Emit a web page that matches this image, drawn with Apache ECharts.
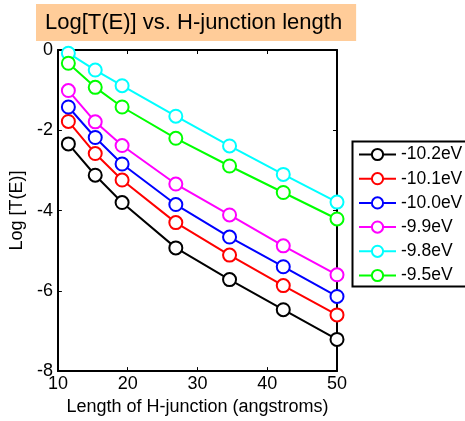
<!DOCTYPE html>
<html>
<head>
<meta charset="utf-8">
<script src="https://cdn.jsdelivr.net/npm/echarts@6/dist/echarts.min.js"></script>
<style>
  html, body { margin: 0; padding: 0; background: #fff; }
  #chart { width: 465px; height: 421px; }
</style>
</head>
<body>
<div id="chart"></div>
<script>
// H-junction lengths (angstroms)
const lengths = [11.5, 15.35, 19.2, 26.9, 34.6, 42.3, 50.0];

// Energy labels and their log transmission values
const energyLabels = ['-10.2eV', '-10.1eV', '-10.0eV', '-9.9eV', '-9.8eV', '-9.5eV'];
const logT_m102 = [-2.34, -3.12, -3.80, -4.93, -5.72, -6.47, -7.21];
const logT_m101 = [-1.78, -2.58, -3.24, -4.30, -5.11, -5.87, -6.60];
const logT_m100 = [-1.42, -2.18, -2.84, -3.85, -4.66, -5.40, -6.14];
const logT_m99  = [-1.01, -1.79, -2.38, -3.34, -4.11, -4.88, -5.60];
const logT_m98  = [-0.08, -0.50, -0.89, -1.65, -2.39, -3.10, -3.79];
const logT_m95  = [-0.33, -0.93, -1.42, -2.20, -2.89, -3.55, -4.21];
const seriesValues = [logT_m102, logT_m101, logT_m100, logT_m99, logT_m98, logT_m95];
const seriesColors = ['#000000', '#ff0000', '#0000ff', '#ff00ff', '#00ffff', '#00ff00'];

const xTicks = [10, 20, 30, 40, 50];
const yTicks = [-8, -6, -4, -2, 0];

const FONT = 'Liberation Sans, Arial, sans-serif';

const chart = echarts.init(document.getElementById('chart'), null, { renderer: 'canvas' });

const series = seriesValues.map((vals, i) => ({
  name: energyLabels[i],
  type: 'line',
  data: vals.map((v, j) => [lengths[j], v]),
  symbol: 'emptyCircle',
  symbolSize: 13,
  color: seriesColors[i],
  lineStyle: { width: 2, color: seriesColors[i] },
  itemStyle: { color: seriesColors[i], borderWidth: 2 },
  emphasis: { disabled: true },
  animation: false
}));

const axisCommon = {
  type: 'value',
  axisLine: { show: true, onZero: false, lineStyle: { color: '#000', width: 2 } },
  axisTick: { show: true, inside: true, length: 4, lineStyle: { color: '#000', width: 1 } },
  splitLine: { show: false }
};

chart.setOption({
  animation: false,
  backgroundColor: '#fff',
  title: {
    text: 'Log[T(E)] vs. H-junction length',
    left: 36,
    top: 4,
    backgroundColor: '#ffcc99',
    padding: [8, 14, 7, 9],
    textStyle: { fontFamily: FONT, fontSize: 22, fontWeight: 'normal', color: '#000' }
  },
  grid: { left: 57, right: 128, top: 50, bottom: 48, containLabel: false },
  // legend frame runs past the right edge of the canvas
  graphic: [{
    type: 'rect',
    left: 350,
    top: 139,
    shape: { x: 0, y: 0, width: 140, height: 145 },
    style: { fill: 'none', stroke: '#000', lineWidth: 2 },
    silent: true,
    z: 10
  }],
  legend: {
    orient: 'vertical',
    left: 358,
    top: 145.5,
    data: energyLabels,
    padding: 0,
    itemWidth: 37,
    itemHeight: 14,
    itemGap: 6.2,
    selectedMode: false,
    textStyle: { fontFamily: FONT, fontSize: 17.5, color: '#000', padding: [0, 0, 0, 0] }
  },
  xAxis: [
    Object.assign({}, axisCommon, {
      position: 'bottom',
      min: xTicks[0], max: xTicks[xTicks.length - 1], interval: 10,
      name: 'Length of H-junction (angstroms)',
      nameLocation: 'middle',
      nameGap: 22,
      nameTextStyle: { fontFamily: FONT, fontSize: 18, color: '#000' },
      axisLabel: { fontFamily: FONT, fontSize: 18, color: '#000', margin: 4 }
    }),
    Object.assign({}, axisCommon, {
      position: 'top',
      min: xTicks[0], max: xTicks[xTicks.length - 1], interval: 10,
      axisLabel: { show: false }
    })
  ],
  yAxis: [
    Object.assign({}, axisCommon, {
      position: 'left',
      min: yTicks[0], max: yTicks[yTicks.length - 1], interval: 2,
      name: 'Log [T(E)]',
      nameLocation: 'middle',
      nameGap: 25,
      nameTextStyle: { fontFamily: FONT, fontSize: 18, color: '#000' },
      axisLabel: { fontFamily: FONT, fontSize: 18, color: '#000', margin: 5 }
    }),
    Object.assign({}, axisCommon, {
      position: 'right',
      min: yTicks[0], max: yTicks[yTicks.length - 1], interval: 2,
      axisLabel: { show: false }
    })
  ],
  series: series
});
</script>
</body>
</html>
